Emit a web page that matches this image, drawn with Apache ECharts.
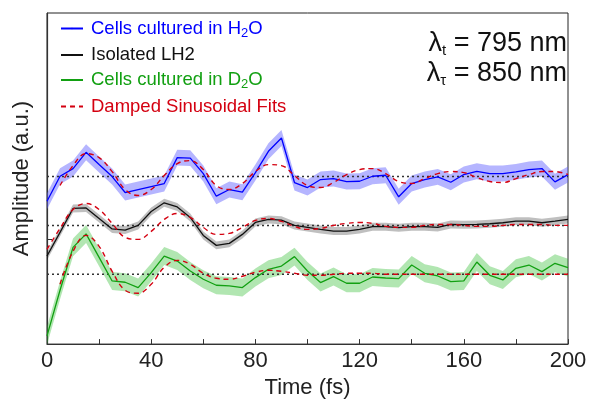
<!DOCTYPE html>
<html>
<head>
<meta charset="utf-8">
<script src="https://cdn.jsdelivr.net/npm/echarts@6/dist/echarts.min.js"></script>
<style>html,body{margin:0;padding:0;background:#fff}#c{width:592px;height:404px}</style>
</head>
<body>
<div id="c"></div>
<script>
// Time axis (fs), step 5
var times = [0,5,10,15,20,25,30,35,40,45,50,55,60,65,70,75,80,85,90,95,100,105,110,115,120,125,130,135,140,145,150,155,160,165,170,175,180,185,190,195,200];
var xTickLabels = ['0','40','80','120','160','200'];

// Cells cultured in H2O (vertically offset trace)
var h2oData = [143.3,168.3,176,192.3,180,168,152,155,158,161,187,186.5,171,148.3,155,152.3,172,193.3,206.7,162,157,165,166,163,163.3,168.3,169.3,147.7,161,165,167.7,162.3,170,173.3,171,171,172.7,175,176,162.7,170];
var h2oErr = 8;
var h2oBase = 168;
var h2oFitT = [5,10,15,20,25,30,35,40,45,50,55,60,65,70,75,80,85,90,95,100,105,110,115,120,125,130,135,140,145,150,155,160,165,170,175,180,185,190,195,200];
var h2oFit = [159,179,191,187,173,155,149,155,169,181,184,175,159,155,161,173,180,179,169,159,157,162,170,175,176,171,163,161,166,171,173,172,167,163,162,166,170,173,173,170];

// Isolated LH2
var lh2Data = [88.3,112,136,136.5,126,115.5,114.3,119,133,141.7,137.5,127,109,99,101,110,122,125,124.3,119,117,115,113.3,113.3,115,117.7,117.7,116.7,117.7,117.7,117,120,119.7,120,120.7,121.7,123.3,123.3,121.7,123.3,125];
var lh2Err = 4;
var lh2Base = 119;
var lh2FitT = [0,5,10,15,20,25,30,35,40,45,50,55,60,65,70,75,80,85,90,95,100,105,110,115,120,125,130,135,140,145,150,155,160,165,170,175,180,185,190,195,200];
var lh2Fit = [95,116,135,141,135,121,107,105,113,125,131,127,117,110,111,117,124,126,123,118,115,116,119,121,122,121,118,117,117,119,120,120,119,118,118,119,120,120,120,119,119];

// Cells cultured in D2O
var d2oData = [8.3,54,97,110.5,87,63.3,62,56.7,71.7,88.3,83.3,73.3,65,59,58.3,56.7,66.7,75,78.3,87.7,73.3,61.7,67.7,61,61,67.3,66.3,65.7,79.3,71,68.3,62.7,63.3,82.3,69,64.3,76,79.3,72.7,81,76.7];
var d2oErr = 9;
var d2oBase = 70;
var d2oFitT = [5,10,15,20,25,30,35,40,45,50,55,60,65,70,75,80,85,90,95,100,105,110,115,120,125,130,135,140,145,150,155,160,165,170,175,180,185,190,195,200];
var d2oFit = [60,93,109,98,73,54,51,60,77,84,80,71,66,65,68,72,74,73,71,69,69,70,71,71,71,70,70,70,70,70,70,70,70,70,70,70,70,70,70,70];

var FONT = 'Liberation Sans';
var BLUE = '#0000ff', BLACK = '#111111', GREEN = '#12a012', RED = '#d40010';

function pairs(xs, ys){ return xs.map(function(x,i){ return [x, ys[i]]; }); }

// shaded uncertainty band drawn as one polygon through the axes' scales
function band(ys, e, color){
  var rows = times.map(function(t,i){ return [t, ys[i]-e, ys[i]+e]; });
  return {
    type:'custom', silent:true, z:1,
    data: rows,
    encode:{x:0, y:[1,2]},
    renderItem:function(params, api){
      if (params.dataIndex !== 0) return;
      var up = [], lo = [];
      for (var i=0;i<rows.length;i++){
        up.push(api.coord([rows[i][0], rows[i][2]]));
        lo.push(api.coord([rows[i][0], rows[i][1]]));
      }
      return {type:'polygon', shape:{points: up.concat(lo.reverse())}, style:{fill:color}};
    }
  };
}
function baseline(v){
  return {type:'line', name:'base'+v, data:[[0,v],[200,v]], symbol:'none', lineStyle:{color:'#333', width:1.5, type:[2,3]}, z:2, silent:true};
}

var series = [
  band(h2oData, h2oErr, 'rgba(90,90,255,0.45)'),
  band(lh2Data, lh2Err, 'rgba(0,0,0,0.25)'),
  band(d2oData, d2oErr, 'rgba(40,185,40,0.36)'),
  baseline(h2oBase), baseline(lh2Base), baseline(d2oBase),
  {type:'line', name:'h2o', data:pairs(times,h2oData), symbol:'none', lineStyle:{color:BLUE, width:1.3}, itemStyle:{color:BLUE}, z:3},
  {type:'line', name:'lh2', data:pairs(times,lh2Data), symbol:'none', lineStyle:{color:BLACK, width:1.3}, itemStyle:{color:BLACK}, z:3},
  {type:'line', name:'d2o', data:pairs(times,d2oData), symbol:'none', lineStyle:{color:GREEN, width:1.3}, itemStyle:{color:GREEN}, z:3},
  {type:'line', name:'fit', data:pairs(h2oFitT,h2oFit), smooth:0.4, symbol:'none', lineStyle:{color:RED, width:1.4, type:[5,4]}, itemStyle:{color:RED}, z:4},
  {type:'line', name:'fit', data:pairs(lh2FitT,lh2Fit), smooth:0.4, symbol:'none', lineStyle:{color:RED, width:1.4, type:[5,4]}, itemStyle:{color:RED}, z:4},
  {type:'line', name:'fit', data:pairs(d2oFitT,d2oFit), smooth:0.4, symbol:'none', lineStyle:{color:RED, width:1.4, type:[5,4]}, itemStyle:{color:RED}, z:4}
];

var legendNames = {
  h2o: 'Cells cultured in H{sub|2}O',
  lh2: 'Isolated LH2',
  d2o: 'Cells cultured in D{sub|2}O',
  fit: 'Damped Sinusoidal Fits'
};

var chart = echarts.init(document.getElementById('c'), null, {renderer:'canvas'});
chart.setOption({
  animation:false,
  textStyle:{fontFamily:FONT},
  grid:{left:47, right:24, top:13, bottom:59, show:true, borderColor:'#222', borderWidth:1, backgroundColor:'transparent'},
  xAxis:{type:'value', min:0, max:200, interval:20,
    axisLine:{lineStyle:{color:'#333', width:1.2}},
    axisTick:{inside:true, length:5, lineStyle:{color:'#333'}},
    axisLabel:{fontFamily:FONT, fontSize:22, color:'#222', margin:6,
      formatter:function(v){ var s=String(v); return xTickLabels.indexOf(s)>=0 ? s : ''; }},
    splitLine:{show:false},
    name:'Time (fs)', nameLocation:'middle', nameGap:32,
    nameTextStyle:{fontFamily:FONT, fontSize:22, color:'#222'}},
  yAxis:{type:'value', min:0, max:332,
    axisLine:{show:true, lineStyle:{color:'#333', width:1.2}},
    axisTick:{show:true, inside:true, length:5, customValues:[105], lineStyle:{color:'#333'}},
    axisLabel:{show:false},
    splitLine:{show:false},
    name:'Amplitude (a.u.)', nameLocation:'middle', nameGap:14,
    nameTextStyle:{fontFamily:FONT, fontSize:22, color:'#222'}},
  legend:{left:55, top:14, orient:'vertical', itemWidth:22, itemHeight:2, itemGap:6,
    data:[
      {name:'h2o', textStyle:{color:BLUE}},
      {name:'lh2', textStyle:{color:BLACK}},
      {name:'d2o', textStyle:{color:GREEN}},
      {name:'fit', textStyle:{color:RED}}
    ],
    formatter:function(n){ return legendNames[n]; },
    textStyle:{fontFamily:FONT, fontSize:18.5, padding:[0,0,0,3],
      rich:{sub:{fontFamily:FONT, fontSize:13, verticalAlign:'bottom', padding:[9,0,0,0]}}}
  },
  graphic:[
    {type:'text', right:25, top:30, style:{text:'λ{s|t} = 795 nm', fontFamily:FONT, fontSize:27, fill:'#111',
      rich:{s:{fontFamily:FONT, fontSize:15, verticalAlign:'bottom', padding:[14,0,0,0], fill:'#111'}}}},
    {type:'text', right:25, top:60, style:{text:'λ{s|τ} = 850 nm', fontFamily:FONT, fontSize:27, fill:'#111',
      rich:{s:{fontFamily:FONT, fontSize:15, verticalAlign:'bottom', padding:[14,0,0,0], fill:'#111'}}}}
  ],
  series:series
});
</script>
</body>
</html>
